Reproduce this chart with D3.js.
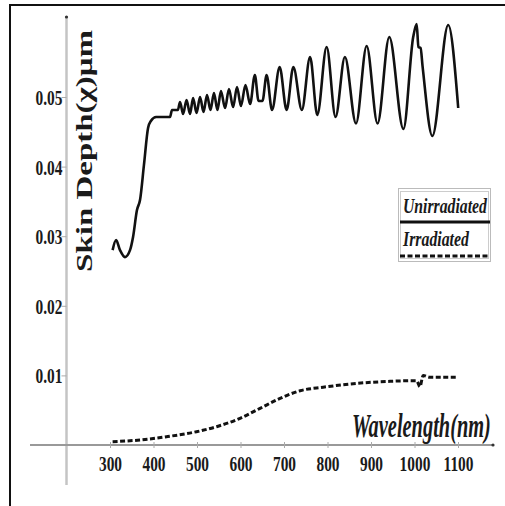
<!DOCTYPE html>
<html>
<head>
<meta charset="utf-8">
<script src="https://cdnjs.cloudflare.com/ajax/libs/d3/7.8.5/d3.min.js"></script>
<style>
  html, body { margin: 0; padding: 0; background: #fff; }
  svg { display: block; }
  text { font-family: "Liberation Serif", "Times New Roman", serif; font-weight: bold; fill: #1a1a1a; }
</style>
</head>
<body>
<div id="chart"></div>
<script>
// unirradiated film (solid)
const unirrWl = [306, 314, 323, 334.5, 346, 353, 362, 369, 378, 387.5,
  394, 406, 438, 442.5, 456,
  461, 468, 476, 484, 491, 499, 507, 515, 523, 531,
  539, 547, 555, 564.5, 573.5, 583, 592, 601, 611.5, 622,
  633, 641.5, 650.5, 660, 672.5, 690, 706, 721.5, 741, 760,
  776.5, 798, 818.5, 840, 865.5, 890, 915, 942, 974.5, 997,
  1005, 1009, 1014, 1018.5, 1041, 1077.5, 1100.5];
const unirrDepth = [0.0280, 0.02945, 0.0280, 0.0270, 0.0280, 0.0299, 0.03376, 0.0352, 0.0402, 0.04555,
  0.04655, 0.04713, 0.04713, 0.04813, 0.04813,
  0.04928, 0.04756, 0.04957, 0.04756, 0.04986, 0.0477, 0.05, 0.04784, 0.05029, 0.04813,
  0.05057, 0.04813, 0.05086, 0.04842, 0.05115, 0.04856, 0.05144, 0.04871, 0.05172, 0.04899,
  0.05316, 0.04943, 0.04943, 0.05316, 0.04813, 0.05431, 0.04813, 0.05431, 0.04813, 0.05575,
  0.04741, 0.05718, 0.04713, 0.05575, 0.04619, 0.05733, 0.04619, 0.05862, 0.0454, 0.05862,
  0.06049, 0.05718, 0.05704, 0.05445, 0.0444, 0.06034, 0.04842];

// irradiated film (dashed)
const irrWl = [306, 369, 430, 499, 545, 599, 645, 691, 737, 790, 867, 944, 1005, 1012.5, 1020, 1035.5, 1100.5];
const irrDepth = [0.00047, 0.00072, 0.00119, 0.00191, 0.00263, 0.00384, 0.00527, 0.00671, 0.0078, 0.0083,
  0.00885, 0.00915, 0.00924, 0.00838, 0.00999, 0.00973, 0.00973];

const xTicks = [300, 400, 500, 600, 700, 800, 900, 1000, 1100];
const yTicks = [0.01, 0.02, 0.03, 0.04, 0.05];
const legendLabels = ["Unirradiated", "Irradiated"];

const width = 505, height = 506;

const svg = d3.select('#chart').append('svg')
  .attr('width', width)
  .attr('height', height);

// squeeze a text horizontally so it spans w pixels
function squeeze(sel, left, base, w) {
  const len = sel.node().getComputedTextLength();
  sel.attr('x', 0).attr('y', 0)
    .attr('transform', `translate(${left},${base}) scale(${w / len},1)`);
}

// scales
const x = d3.scaleLinear().domain([300, 1100]).range([110, 458]);
const y = d3.scaleLinear().domain([0, 0.05]).range([445, 97]);

// outer frame
svg.append('rect')
  .attr('x', 10).attr('y', 5)
  .attr('width', 520).attr('height', 520)
  .attr('fill', 'none')
  .attr('stroke', '#111')
  .attr('stroke-width', 2);

// axis lines (they run past the tick range)
const x0 = x(200);
svg.append('line')
  .attr('x1', x0).attr('x2', x0)
  .attr('y1', 16).attr('y2', 485)
  .attr('stroke', '#c4c4c4').attr('stroke-width', 2.5);
svg.append('circle').attr('cx', x0).attr('cy', 17).attr('r', 1.6).attr('fill', '#333');

svg.append('line')
  .attr('x1', 30).attr('x2', 493)
  .attr('y1', y(0)).attr('y2', y(0))
  .attr('stroke', '#999').attr('stroke-width', 2);
svg.append('circle').attr('cx', 493).attr('cy', y(0)).attr('r', 1.6).attr('fill', '#333');

// x axis
const axisX = d3.axisBottom(x).tickValues(xTicks).tickSize(3).tickFormat(d3.format('d'));
const gx = svg.append('g')
  .attr('transform', `translate(0,${y(0)})`)
  .call(axisX);
gx.select('.domain').remove();
gx.selectAll('.tick line').attr('y1', -3).attr('y2', 3).attr('stroke', '#aaa').attr('stroke-width', 1);
gx.selectAll('.tick text')
  .attr('y', 0).attr('dy', null)
  .attr('transform', 'translate(0,26) scale(0.7,1)')
  .style('font-size', '22px')
  .attr('fill', '#1a1a1a');

// y axis
const axisY = d3.axisLeft(y).tickValues(yTicks).tickSize(5).tickFormat(d3.format('.2f'));
const gy = svg.append('g')
  .attr('transform', `translate(${x0},0)`)
  .call(axisY);
gy.select('.domain').remove();
gy.selectAll('.tick line').attr('stroke', '#aaa').attr('stroke-width', 1);
gy.selectAll('.tick text')
  .attr('x', 0).attr('dy', '0.34em')
  .attr('transform', 'translate(-4,0) scale(0.7,1)')
  .style('font-size', '22px')
  .attr('fill', '#1a1a1a');

// axis titles
svg.append('text')
  .attr('transform', 'translate(92,151) rotate(-90)')
  .attr('text-anchor', 'middle')
  .attr('textLength', 242)
  .attr('lengthAdjust', 'spacingAndGlyphs')
  .style('font-size', '23px')
  .text('Skin Depth(χ)μm');

const xTitle = svg.append('text')
  .style('font-size', '34px')
  .style('font-style', 'italic')
  .text('Wavelength(nm)');
squeeze(xTitle, 352, 437, 139);

// lines
const lineGen = d3.line()
  .x(d => x(d[0]))
  .y(d => y(d[1]))
  .curve(d3.curveMonotoneX);

svg.append('path')
  .datum(d3.zip(unirrWl, unirrDepth))
  .attr('d', lineGen)
  .attr('fill', 'none')
  .attr('stroke', '#111')
  .attr('stroke-width', 2.6)
  .attr('stroke-linejoin', 'round');

svg.append('path')
  .datum(d3.zip(irrWl, irrDepth))
  .attr('d', lineGen)
  .attr('fill', 'none')
  .attr('stroke', '#111')
  .attr('stroke-width', 3)
  .attr('stroke-dasharray', '5,2.5');

// legend
const lg = svg.append('g');
lg.append('rect').attr('x', 398.5).attr('y', 188.5).attr('width', 92).attr('height', 73)
  .attr('fill', 'none').attr('stroke', '#bbb').attr('stroke-width', 1);
lg.append('rect').attr('x', 400.5).attr('y', 191.5).attr('width', 88).attr('height', 67)
  .attr('fill', 'none').attr('stroke', '#ccc').attr('stroke-width', 1);

const lt1 = lg.append('text')
  .style('font-size', '21px')
  .style('font-style', 'italic')
  .text(legendLabels[0]);
squeeze(lt1, 403, 213, 84);
lg.append('line')
  .attr('x1', 400).attr('x2', 490).attr('y1', 222).attr('y2', 222)
  .attr('stroke', '#111').attr('stroke-width', 3);

const lt2 = lg.append('text')
  .style('font-size', '21px')
  .style('font-style', 'italic')
  .text(legendLabels[1]);
squeeze(lt2, 403, 246, 66);
lg.append('line')
  .attr('x1', 400).attr('x2', 490).attr('y1', 256).attr('y2', 256)
  .attr('stroke', '#111').attr('stroke-width', 3)
  .attr('stroke-dasharray', '5,2.5');
</script>
</body>
</html>
